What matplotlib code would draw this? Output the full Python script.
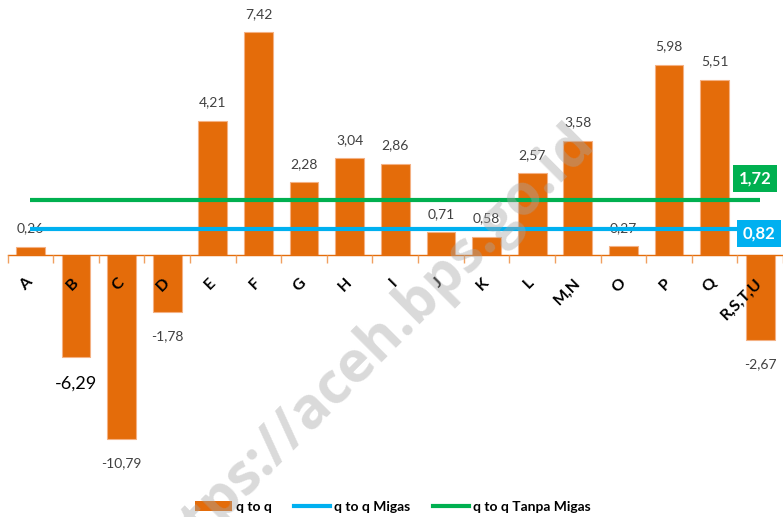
import matplotlib
matplotlib.use("Agg")
import matplotlib.pyplot as plt
from matplotlib.patches import Patch
from matplotlib.lines import Line2D
from matplotlib.transforms import ScaledTranslation

# ---- data ----
categories = ["A", "B", "C", "D", "E", "F", "G", "H", "I", "J", "K", "L",
              "M,N", "O", "P", "Q", "R,S,T,U"]
values = [0.26, -6.29, -10.79, -1.78, 4.21, 7.42, 2.28, 3.04, 2.86, 0.71,
          0.58, 2.57, 3.58, 0.27, 5.98, 5.51, -2.67]
# bar lengths as drawn in the reference (B, C and F are drawn shortened)
bar_lengths = [0.26, -3.22, -5.78, -1.78, 4.21, 7.00, 2.28, 3.04, 2.86, 0.71,
               0.58, 2.57, 3.58, 0.27, 5.98, 5.51, -2.67]
migas = 0.82
tanpa_migas = 1.72
legend_labels = ["q to q", "q to q Migas", "q to q Tanpa Migas"]
watermark = "https://aceh.bps.go.id"

ORANGE = "#E46C0A"
BLUE = "#00B0F0"
GREEN = "#00B050"

fig = plt.figure(figsize=(7.83, 5.17), dpi=100)
ax = fig.add_axes([7.6 / 783, (517 - 470) / 517, (783 - 7.6) / 783, 465 / 517])
ax.set_xlim(-0.5, len(categories) - 0.5)
ax.set_ylim(-(470 - 255) / 31.8, (255 - 5) / 31.8)

x = list(range(len(categories)))
ax.bar(x, bar_lengths, width=0.63, color=ORANGE, edgecolor="#F4B183",
       linewidth=0.8, zorder=2)

# reference lines
ax.plot([x[0], x[-1]], [migas, migas], color=BLUE, lw=3, zorder=4,
        solid_capstyle="butt")
ax.plot([x[0], x[-1]], [tanpa_migas, tanpa_migas], color=GREEN, lw=3, zorder=4,
        solid_capstyle="butt")

# data labels
for i, (v, h) in enumerate(zip(values, bar_lengths)):
    txt = f"{v:.2f}".replace(".", ",")
    if categories[i] == "B":
        kw = dict(fontsize=13, color="black")
    else:
        kw = dict(fontsize=10, color="#404040")
    if h >= 0:
        ax.annotate(txt, (i, h), xytext=(0, 9), textcoords="offset points",
                    ha="center", va="bottom", family="Lato", zorder=3, **kw)
    else:
        ax.annotate(txt, (i, h), xytext=(0, -13), textcoords="offset points",
                    ha="center", va="top", family="Lato", zorder=3, **kw)

# boxed labels for the lines
ax.text(15.89, 2.42, f"{tanpa_migas:.2f}".replace(".", ","), color="white",
        fontsize=12, fontweight="bold", family="Lato", ha="center", va="center",
        bbox=dict(boxstyle="square,pad=0.33", fc=GREEN, ec="none"), zorder=6)
ax.text(15.97, 0.68, f"{migas:.2f}".replace(".", ","), color="white",
        fontsize=12, fontweight="bold", family="Lato", ha="center", va="center",
        bbox=dict(boxstyle="square,pad=0.33", fc=BLUE, ec="none"), zorder=6)

# axes styling
for s in ["top", "right", "left"]:
    ax.spines[s].set_visible(False)
ax.spines["bottom"].set_position(("data", 0))
ax.spines["bottom"].set_color(ORANGE)
ax.spines["bottom"].set_linewidth(1.0)
ax.spines["bottom"].set_zorder(3)
ax.xaxis.set_zorder(5)
ax.set_yticks([])
ax.set_xticks(x)
ax.set_xticks([i - 0.5 for i in range(len(categories) + 1)], minor=True)
ax.tick_params(axis="x", which="major", length=0, pad=15)
ax.tick_params(axis="x", which="minor", length=6, color="#F0A060", width=1)
ax.set_xticklabels(categories, rotation=45, ha="right", va="top",
                   fontsize=11.5, fontweight="bold", family="Lato", color="black")
off = ScaledTranslation(5 / 100, 0, fig.dpi_scale_trans)
for lab in ax.get_xticklabels():
    lab.set_transform(lab.get_transform() + off)

# legend
handles = [Patch(facecolor=ORANGE, edgecolor="none"),
           Line2D([0], [0], color=BLUE, lw=3),
           Line2D([0], [0], color=GREEN, lw=3)]
leg = fig.legend(handles, legend_labels, loc="center",
                 bbox_to_anchor=(393 / 783, 1 - 507 / 517), ncol=3,
                 frameon=False, prop=dict(family="Lato", weight="bold", size=10),
                 handlelength=2.6, handletextpad=0.3, columnspacing=1.6)

# watermark
fig.text(366 / 783, 1 - 352 / 517, watermark, rotation=45, rotation_mode="anchor",
         ha="center", va="center", fontsize=41, fontweight="bold",
         family="Open Sans", color="#A6A6A6", alpha=0.42, zorder=10)

fig.savefig("out.png", dpi=100)
